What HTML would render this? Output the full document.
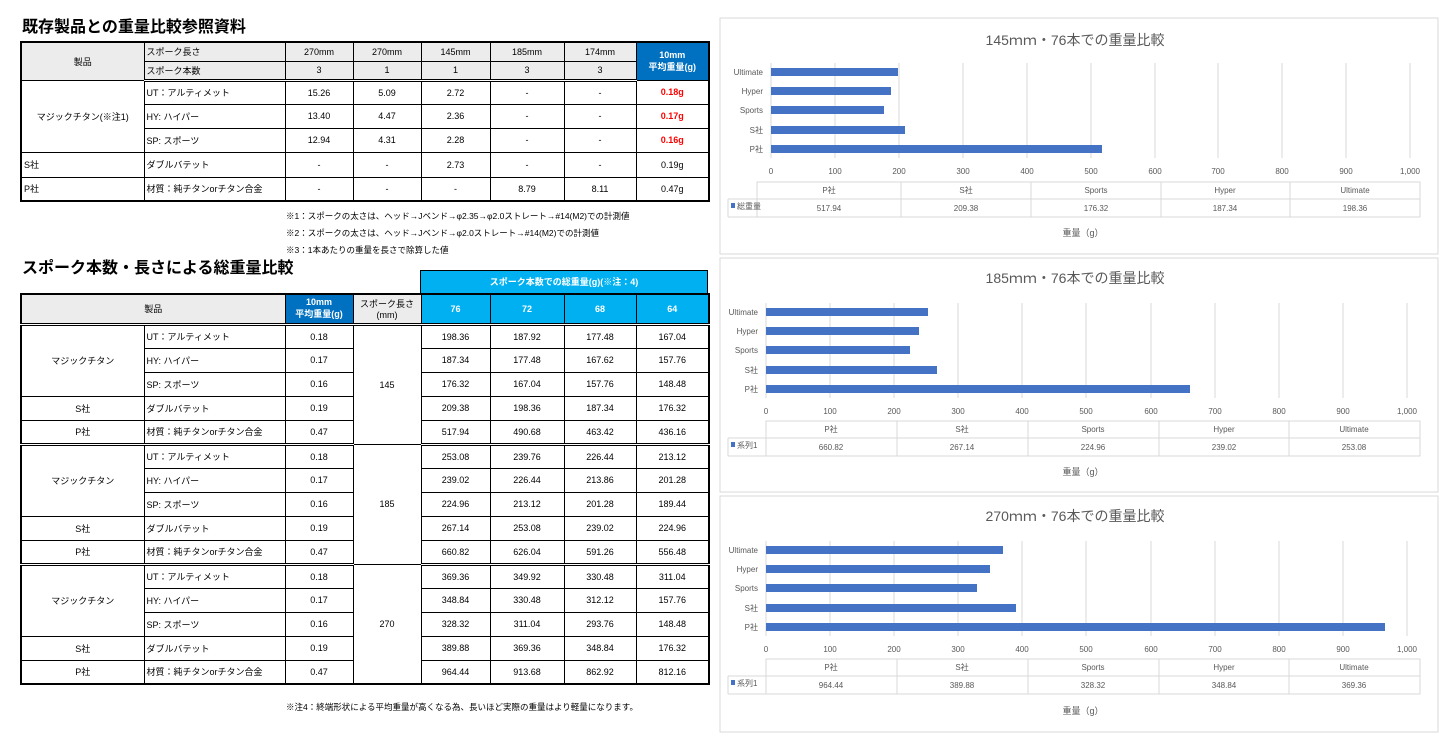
<!DOCTYPE html>
<html><head><meta charset="utf-8">
<style>
body{margin:0;width:1445px;height:744px;background:#fff;position:relative;overflow:hidden;font-family:"Liberation Sans","Noto Sans CJK JP",sans-serif;}
.t{position:absolute;border-collapse:collapse;table-layout:fixed;font-size:9px;color:#000;}
.t td{border:1px solid #000;padding:0 2px;text-align:center;white-space:nowrap;overflow:hidden;}
.t td.l{text-align:left;}
.hd{background:#ececec;}
.db{background:#0070c0;color:#fff;font-weight:bold;}
.lb{background:#00b0f0;color:#fff;font-weight:bold;}
.red{color:#ff0000;font-weight:bold;}
.h1{position:absolute;font-size:16px;font-weight:bold;}
.note{position:absolute;font-size:8.5px;}
.gs td{border-bottom:3px double #000;}
</style></head><body>
<div class="h1" style="left:22px;top:13px">既存製品との重量比較参照資料</div>
<table class="t" style="left:20px;top:41px;width:688px;border:2px solid #000">
<colgroup><col style="width:123px"><col style="width:141px"><col style="width:68px"><col style="width:68px"><col style="width:69px"><col style="width:74px"><col style="width:72px"><col style="width:73px"></colgroup>
<tr style="height:19px"><td class="hd" rowspan="2">製品</td><td class="hd l">スポーク長さ</td><td class="hd">270mm</td><td class="hd">270mm</td><td class="hd">145mm</td><td class="hd">185mm</td><td class="hd">174mm</td><td class="db" rowspan="2">10mm<br>平均重量(g)</td></tr>
<tr style="height:19px" class="gs"><td class="hd l">スポーク本数</td><td class="hd">3</td><td class="hd">1</td><td class="hd">1</td><td class="hd">3</td><td class="hd">3</td></tr>
<tr style="height:24px"><td rowspan="3">マジックチタン(※注1)</td><td class="l">UT：アルティメット</td><td>15.26</td><td>5.09</td><td>2.72</td><td>-</td><td>-</td><td class="red">0.18g</td></tr>
<tr style="height:24px"><td class="l">HY: ハイパー</td><td>13.40</td><td>4.47</td><td>2.36</td><td>-</td><td>-</td><td class="red">0.17g</td></tr>
<tr style="height:24px"><td class="l">SP: スポーツ</td><td>12.94</td><td>4.31</td><td>2.28</td><td>-</td><td>-</td><td class="red">0.16g</td></tr>
<tr style="height:25px"><td class="l">S社</td><td class="l">ダブルバテット</td><td>-</td><td>-</td><td>2.73</td><td>-</td><td>-</td><td>0.19g</td></tr>
<tr style="height:24px"><td class="l">P社</td><td class="l">材質：純チタンorチタン合金</td><td>-</td><td>-</td><td>-</td><td>8.79</td><td>8.11</td><td>0.47g</td></tr>
</table>
<div class="note" style="left:286px;top:210px">※1：スポークの太さは、ヘッド→Jベンド→φ2.35→φ2.0ストレート→#14(M2)での計測値</div>
<div class="note" style="left:286px;top:227px">※2：スポークの太さは、ヘッド→Jベンド→φ2.0ストレート→#14(M2)での計測値</div>
<div class="note" style="left:286px;top:244px">※3：1本あたりの重量を長さで除算した値</div>
<div class="h1" style="left:22px;top:254px">スポーク本数・長さによる総重量比較</div>
<div style="position:absolute;left:420px;top:270px;width:286px;height:22px;background:#00b0f0;border:1px solid #000;color:#fff;font-weight:bold;font-size:9px;text-align:center;line-height:22px">スポーク本数での総重量(g)(※注：4)</div>
<table class="t" style="left:20px;top:293px;width:688px;border:2px solid #000">
<colgroup><col style="width:123px"><col style="width:141px"><col style="width:68px"><col style="width:68px"><col style="width:69px"><col style="width:74px"><col style="width:72px"><col style="width:73px"></colgroup>
<tr style="height:30px" class="gs"><td class="hd" colspan="2">製品</td><td class="db">10mm<br>平均重量(g)</td><td class="hd">スポーク長さ<br>(mm)</td><td class="lb">76</td><td class="lb">72</td><td class="lb">68</td><td class="lb">64</td></tr>
<tr style="height:24px"><td rowspan="3">マジックチタン</td><td class="l">UT：アルティメット</td><td>0.18</td><td rowspan="5">145</td><td>198.36</td><td>187.92</td><td>177.48</td><td>167.04</td></tr>
<tr style="height:24px"><td class="l">HY: ハイパー</td><td>0.17</td><td>187.34</td><td>177.48</td><td>167.62</td><td>157.76</td></tr>
<tr style="height:24px"><td class="l">SP: スポーツ</td><td>0.16</td><td>176.32</td><td>167.04</td><td>157.76</td><td>148.48</td></tr>
<tr style="height:24px"><td>S社</td><td class="l">ダブルバテット</td><td>0.19</td><td>209.38</td><td>198.36</td><td>187.34</td><td>176.32</td></tr>
<tr style="height:24px" class="gs"><td>P社</td><td class="l">材質：純チタンorチタン合金</td><td>0.47</td><td>517.94</td><td>490.68</td><td>463.42</td><td>436.16</td></tr>
<tr style="height:24px"><td rowspan="3">マジックチタン</td><td class="l">UT：アルティメット</td><td>0.18</td><td rowspan="5">185</td><td>253.08</td><td>239.76</td><td>226.44</td><td>213.12</td></tr>
<tr style="height:24px"><td class="l">HY: ハイパー</td><td>0.17</td><td>239.02</td><td>226.44</td><td>213.86</td><td>201.28</td></tr>
<tr style="height:24px"><td class="l">SP: スポーツ</td><td>0.16</td><td>224.96</td><td>213.12</td><td>201.28</td><td>189.44</td></tr>
<tr style="height:24px"><td>S社</td><td class="l">ダブルバテット</td><td>0.19</td><td>267.14</td><td>253.08</td><td>239.02</td><td>224.96</td></tr>
<tr style="height:24px" class="gs"><td>P社</td><td class="l">材質：純チタンorチタン合金</td><td>0.47</td><td>660.82</td><td>626.04</td><td>591.26</td><td>556.48</td></tr>
<tr style="height:24px"><td rowspan="3">マジックチタン</td><td class="l">UT：アルティメット</td><td>0.18</td><td rowspan="5">270</td><td>369.36</td><td>349.92</td><td>330.48</td><td>311.04</td></tr>
<tr style="height:24px"><td class="l">HY: ハイパー</td><td>0.17</td><td>348.84</td><td>330.48</td><td>312.12</td><td>157.76</td></tr>
<tr style="height:24px"><td class="l">SP: スポーツ</td><td>0.16</td><td>328.32</td><td>311.04</td><td>293.76</td><td>148.48</td></tr>
<tr style="height:24px"><td>S社</td><td class="l">ダブルバテット</td><td>0.19</td><td>389.88</td><td>369.36</td><td>348.84</td><td>176.32</td></tr>
<tr style="height:24px"><td>P社</td><td class="l">材質：純チタンorチタン合金</td><td>0.47</td><td>964.44</td><td>913.68</td><td>862.92</td><td>812.16</td></tr>
</table>
<div class="note" style="left:286px;top:701px">※注4：終端形状による平均重量が高くなる為、長いほど実際の重量はより軽量になります。</div>

<svg style="position:absolute;left:0;top:0" width="1445" height="744" font-family="Liberation Sans,Noto Sans CJK JP,sans-serif">
<rect x="720" y="18" width="718" height="236" fill="#fff" stroke="#d9d9d9"/>
<rect x="720" y="258" width="718" height="234" fill="#fff" stroke="#d9d9d9"/>
<rect x="720" y="496" width="718" height="236" fill="#fff" stroke="#d9d9d9"/>
<g id="c1">
<text x="1075" y="45" font-size="14" fill="#595959" text-anchor="middle">145ｍｍ・76本での重量比較</text>
<g stroke="#d9d9d9"><line x1="835" y1="63" x2="835" y2="158"/><line x1="899" y1="63" x2="899" y2="158"/><line x1="963" y1="63" x2="963" y2="158"/><line x1="1027" y1="63" x2="1027" y2="158"/><line x1="1091" y1="63" x2="1091" y2="158"/><line x1="1155" y1="63" x2="1155" y2="158"/><line x1="1218" y1="63" x2="1218" y2="158"/><line x1="1282" y1="63" x2="1282" y2="158"/><line x1="1346" y1="63" x2="1346" y2="158"/><line x1="1410" y1="63" x2="1410" y2="158"/><line x1="771" y1="63" x2="771" y2="158"/></g>
<g fill="#4472c4"><rect x="771" y="68" width="127" height="8"/><rect x="771" y="87" width="120" height="8"/><rect x="771" y="106" width="113" height="8"/><rect x="771" y="126" width="134" height="8"/><rect x="771" y="145" width="331" height="8"/></g>
<g font-size="8" fill="#595959" text-anchor="end"><text x="763" y="75">Ultimate</text><text x="763" y="94">Hyper</text><text x="763" y="113">Sports</text><text x="763" y="133">S社</text><text x="763" y="152">P社</text></g>
<g font-size="8" fill="#595959" text-anchor="middle"><text x="771" y="174">0</text><text x="835" y="174">100</text><text x="899" y="174">200</text><text x="963" y="174">300</text><text x="1027" y="174">400</text><text x="1091" y="174">500</text><text x="1155" y="174">600</text><text x="1218" y="174">700</text><text x="1282" y="174">800</text><text x="1346" y="174">900</text><text x="1410" y="174">1,000</text></g>
<g stroke="#d9d9d9" fill="none"><rect x="757" y="182" width="663" height="35"/><line x1="728" y1="199" x2="1420" y2="199"/><line x1="728" y1="217" x2="728" y2="199"/><line x1="728" y1="217" x2="757" y2="217"/><line x1="901" y1="182" x2="901" y2="217"/><line x1="1031" y1="182" x2="1031" y2="217"/><line x1="1161" y1="182" x2="1161" y2="217"/><line x1="1290" y1="182" x2="1290" y2="217"/></g>
<g font-size="8" fill="#595959" text-anchor="middle"><text x="829" y="193">P社</text><text x="966" y="193">S社</text><text x="1096" y="193">Sports</text><text x="1225" y="193">Hyper</text><text x="1355" y="193">Ultimate</text><text x="829" y="211">517.94</text><text x="966" y="211">209.38</text><text x="1096" y="211">176.32</text><text x="1225" y="211">187.34</text><text x="1355" y="211">198.36</text></g>
<rect x="731" y="203" width="4" height="5" fill="#4472c4"/><text x="737" y="209" font-size="8" fill="#595959">総重量</text>
<text x="1083" y="236" font-size="9" fill="#595959" text-anchor="middle">重量（g）</text>
</g>
<g id="c2">
<text x="1075" y="283" font-size="14" fill="#595959" text-anchor="middle">185ｍｍ・76本での重量比較</text>
<g stroke="#d9d9d9"><line x1="830" y1="303" x2="830" y2="398"/><line x1="894" y1="303" x2="894" y2="398"/><line x1="958" y1="303" x2="958" y2="398"/><line x1="1022" y1="303" x2="1022" y2="398"/><line x1="1086" y1="303" x2="1086" y2="398"/><line x1="1151" y1="303" x2="1151" y2="398"/><line x1="1215" y1="303" x2="1215" y2="398"/><line x1="1279" y1="303" x2="1279" y2="398"/><line x1="1343" y1="303" x2="1343" y2="398"/><line x1="1407" y1="303" x2="1407" y2="398"/><line x1="766" y1="303" x2="766" y2="398"/></g>
<g fill="#4472c4"><rect x="766" y="308" width="162" height="8"/><rect x="766" y="327" width="153" height="8"/><rect x="766" y="346" width="144" height="8"/><rect x="766" y="366" width="171" height="8"/><rect x="766" y="385" width="424" height="8"/></g>
<g font-size="8" fill="#595959" text-anchor="end"><text x="758" y="315">Ultimate</text><text x="758" y="334">Hyper</text><text x="758" y="353">Sports</text><text x="758" y="373">S社</text><text x="758" y="392">P社</text></g>
<g font-size="8" fill="#595959" text-anchor="middle"><text x="766" y="414">0</text><text x="830" y="414">100</text><text x="894" y="414">200</text><text x="958" y="414">300</text><text x="1022" y="414">400</text><text x="1086" y="414">500</text><text x="1151" y="414">600</text><text x="1215" y="414">700</text><text x="1279" y="414">800</text><text x="1343" y="414">900</text><text x="1407" y="414">1,000</text></g>
<g stroke="#d9d9d9" fill="none"><rect x="766" y="421" width="654" height="35"/><line x1="728" y1="438" x2="1420" y2="438"/><line x1="728" y1="456" x2="728" y2="438"/><line x1="728" y1="456" x2="766" y2="456"/><line x1="897" y1="421" x2="897" y2="456"/><line x1="1028" y1="421" x2="1028" y2="456"/><line x1="1159" y1="421" x2="1159" y2="456"/><line x1="1289" y1="421" x2="1289" y2="456"/></g>
<g font-size="8" fill="#595959" text-anchor="middle"><text x="831" y="432">P社</text><text x="962" y="432">S社</text><text x="1093" y="432">Sports</text><text x="1224" y="432">Hyper</text><text x="1354" y="432">Ultimate</text><text x="831" y="450">660.82</text><text x="962" y="450">267.14</text><text x="1093" y="450">224.96</text><text x="1224" y="450">239.02</text><text x="1354" y="450">253.08</text></g>
<rect x="731" y="442" width="4" height="5" fill="#4472c4"/><text x="737" y="448" font-size="8" fill="#595959">系列1</text>
<text x="1083" y="475" font-size="9" fill="#595959" text-anchor="middle">重量（g）</text>
</g>
<g id="c3">
<text x="1075" y="521" font-size="14" fill="#595959" text-anchor="middle">270ｍｍ・76本での重量比較</text>
<g stroke="#d9d9d9"><line x1="830" y1="541" x2="830" y2="636"/><line x1="894" y1="541" x2="894" y2="636"/><line x1="958" y1="541" x2="958" y2="636"/><line x1="1022" y1="541" x2="1022" y2="636"/><line x1="1086" y1="541" x2="1086" y2="636"/><line x1="1151" y1="541" x2="1151" y2="636"/><line x1="1215" y1="541" x2="1215" y2="636"/><line x1="1279" y1="541" x2="1279" y2="636"/><line x1="1343" y1="541" x2="1343" y2="636"/><line x1="1407" y1="541" x2="1407" y2="636"/><line x1="766" y1="541" x2="766" y2="636"/></g>
<g fill="#4472c4"><rect x="766" y="546" width="237" height="8"/><rect x="766" y="565" width="224" height="8"/><rect x="766" y="584" width="211" height="8"/><rect x="766" y="604" width="250" height="8"/><rect x="766" y="623" width="619" height="8"/></g>
<g font-size="8" fill="#595959" text-anchor="end"><text x="758" y="553">Ultimate</text><text x="758" y="572">Hyper</text><text x="758" y="591">Sports</text><text x="758" y="611">S社</text><text x="758" y="630">P社</text></g>
<g font-size="8" fill="#595959" text-anchor="middle"><text x="766" y="652">0</text><text x="830" y="652">100</text><text x="894" y="652">200</text><text x="958" y="652">300</text><text x="1022" y="652">400</text><text x="1086" y="652">500</text><text x="1151" y="652">600</text><text x="1215" y="652">700</text><text x="1279" y="652">800</text><text x="1343" y="652">900</text><text x="1407" y="652">1,000</text></g>
<g stroke="#d9d9d9" fill="none"><rect x="766" y="659" width="654" height="35"/><line x1="728" y1="676" x2="1420" y2="676"/><line x1="728" y1="694" x2="728" y2="676"/><line x1="728" y1="694" x2="766" y2="694"/><line x1="897" y1="659" x2="897" y2="694"/><line x1="1028" y1="659" x2="1028" y2="694"/><line x1="1159" y1="659" x2="1159" y2="694"/><line x1="1289" y1="659" x2="1289" y2="694"/></g>
<g font-size="8" fill="#595959" text-anchor="middle"><text x="831" y="670">P社</text><text x="962" y="670">S社</text><text x="1093" y="670">Sports</text><text x="1224" y="670">Hyper</text><text x="1354" y="670">Ultimate</text><text x="831" y="688">964.44</text><text x="962" y="688">389.88</text><text x="1093" y="688">328.32</text><text x="1224" y="688">348.84</text><text x="1354" y="688">369.36</text></g>
<rect x="731" y="680" width="4" height="5" fill="#4472c4"/><text x="737" y="686" font-size="8" fill="#595959">系列1</text>
<text x="1083" y="714" font-size="9" fill="#595959" text-anchor="middle">重量（g）</text>
</g>
</svg>
</body></html>
